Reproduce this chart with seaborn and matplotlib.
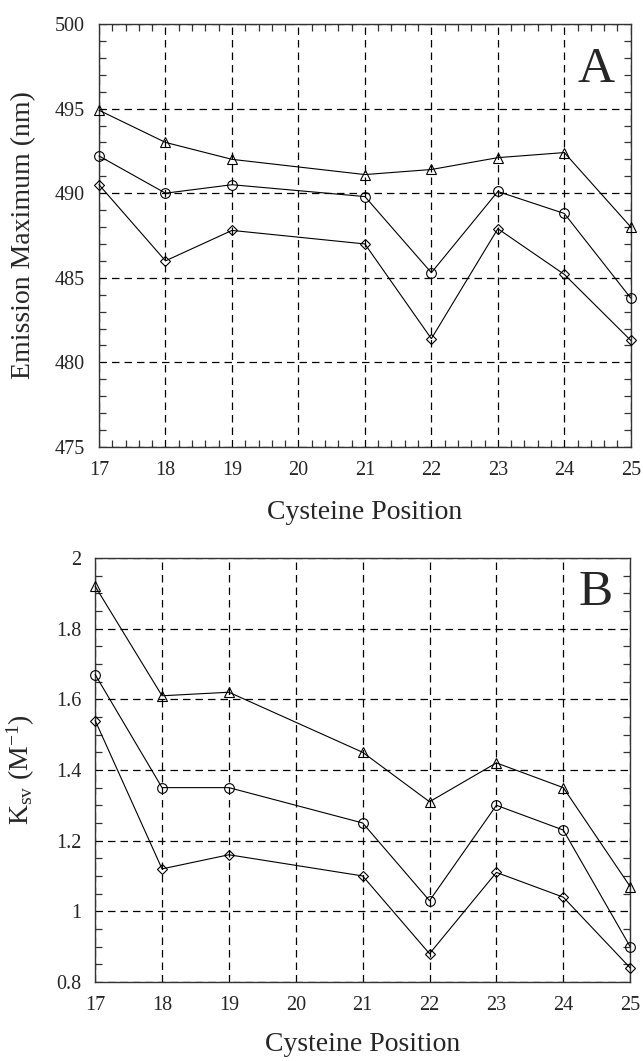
import matplotlib
matplotlib.use("Agg")
import matplotlib.pyplot as plt
import numpy as np
import pandas as pd
import seaborn as sns
from matplotlib.ticker import MultipleLocator, FuncFormatter

# Cysteine positions (no mutant at 20)
positions = [17, 18, 19, 21, 22, 23, 24, 25]

# Panel A: emission maximum (nm)
em_tri = [494.9, 493.0, 492.0, 491.1, 491.4, 492.1, 492.4, 488.0]
em_circ = [492.2, 490.0, 490.5, 489.8, 485.3, 490.1, 488.8, 483.8]
em_dia = [490.5, 486.0, 487.8, 487.0, 481.4, 487.9, 485.2, 481.3]

# Panel B: Stern-Volmer constants (M^-1)
ksv_tri = [1.92, 1.61, 1.62, 1.45, 1.31, 1.42, 1.35, 1.07]
ksv_circ = [1.67, 1.35, 1.35, 1.25, 1.03, 1.30, 1.23, 0.90]
ksv_dia = [1.54, 1.12, 1.16, 1.10, 0.88, 1.11, 1.04, 0.84]

series_names = ["set 1", "set 2", "set 3"]
marker_map = {"set 1": "^", "set 2": "o", "set 3": "D"}

sns.set_style("ticks")
plt.rcParams["font.family"] = ["Liberation Serif", "DejaVu Serif"]
plt.rcParams["mathtext.fontset"] = "custom"
plt.rcParams["mathtext.rm"] = "Liberation Serif"
plt.rcParams["mathtext.it"] = "Liberation Serif:italic"


def long_frame(a, b, c):
    return pd.DataFrame({
        "pos": positions * 3,
        "val": a + b + c,
        "series": [series_names[0]] * len(a) + [series_names[1]] * len(b)
        + [series_names[2]] * len(c),
    })


def draw(ax, df):
    for name in series_names:
        sub = df[df["series"] == name]
        sns.lineplot(
            data=sub, x="pos", y="val", color="black",
            marker=marker_map[name], markersize=5.0 if name == "set 3" else 7,
            markerfacecolor="none", markeredgecolor="black",
            markeredgewidth=0.8, linewidth=0.8, estimator=None, sort=False,
            legend=False, ax=ax, zorder=5, clip_on=False,
        )


def style_axes(ax):
    ax.grid(True, which="major", color="black", linestyle=(0, (6, 4)),
            linewidth=0.9)
    for sp in ax.spines.values():
        sp.set_visible(True)
        sp.set_color("#333333")
        sp.set_linewidth(1.0)
        sp.set_zorder(4)
    ax.tick_params(which="both", direction="in", top=True, right=True,
                   color="#333333", width=0.9)
    ax.tick_params(which="major", length=0)
    ax.tick_params(which="minor", length=5)
    ax.tick_params(axis="x", labelsize=14.5, pad=10)
    ax.tick_params(axis="y", labelsize=14.5, pad=10)
    ax.set_xlim(17, 25)
    ax.xaxis.set_major_locator(MultipleLocator(1))


fig = plt.figure(figsize=(6.43, 10.61), dpi=100)

# Panel A
axA = fig.add_axes([0.154, 0.5787, 0.827, 0.3987])
draw(axA, long_frame(em_tri, em_circ, em_dia))
style_axes(axA)
axA.set_ylim(475, 500)
axA.yaxis.set_major_locator(MultipleLocator(5))
axA.yaxis.set_minor_locator(MultipleLocator(1))
axA.xaxis.set_minor_locator(MultipleLocator(0.2))
axA.set_xlabel("Cysteine Position", fontsize=20)
axA.set_ylabel("Emission Maximum (nm)", fontsize=20)
axA.xaxis.set_label_coords(0.5, -0.125)
axA.yaxis.set_label_coords(-0.118, 0.5)
axA.text(0.970, 0.863, "A", transform=axA.transAxes, ha="right",
         va="baseline", fontsize=37)

# Panel B
axB = fig.add_axes([0.148, 0.0745, 0.832, 0.3996])
draw(axB, long_frame(ksv_tri, ksv_circ, ksv_dia))
style_axes(axB)
axB.set_ylim(0.8, 2.0)
axB.yaxis.set_major_locator(MultipleLocator(0.2))
axB.yaxis.set_minor_locator(MultipleLocator(0.05))
axB.yaxis.set_major_formatter(FuncFormatter(lambda v, p: f"{v:g}"))
axB.tick_params(axis="x", which="minor", bottom=False, top=False)
axB.set_xlabel("Cysteine Position", fontsize=20)
axB.set_ylabel(r"K$_{\mathrm{sv}}$ (M$^{\mathrm{-1}}$)", fontsize=20)
axB.xaxis.set_label_coords(0.5, -0.118)
axB.yaxis.set_label_coords(-0.108, 0.5)
axB.text(0.968, 0.889, "B", transform=axB.transAxes, ha="right",
         va="baseline", fontsize=37)

fig.savefig("out.png", dpi=100)
